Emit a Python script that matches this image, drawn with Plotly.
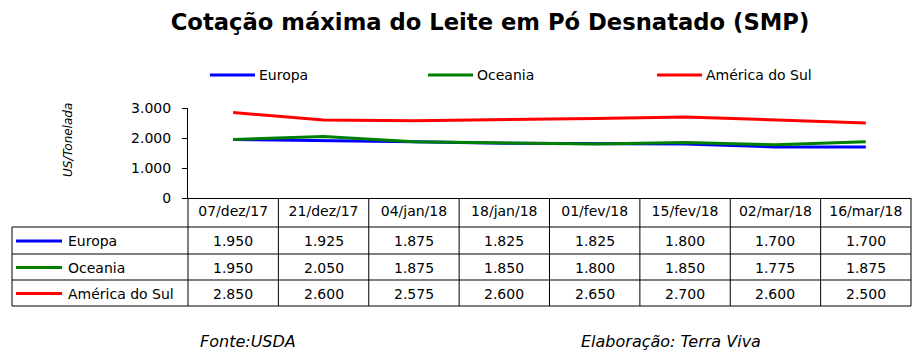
import plotly.graph_objects as go

# ---------------- data ----------------
categories = ["07/dez/17", "21/dez/17", "04/jan/18", "18/jan/18",
              "01/fev/18", "15/fev/18", "02/mar/18", "16/mar/18"]
europa = [1950, 1925, 1875, 1825, 1825, 1800, 1700, 1700]
oceania = [1950, 2050, 1875, 1850, 1800, 1850, 1775, 1875]
america_sul = [2850, 2600, 2575, 2600, 2650, 2700, 2600, 2500]
series_names = ["Europa", "Oceania", "América do Sul"]
y_tickvals = [0, 1000, 2000, 3000]
title_text = "Cotação máxima do Leite em Pó Desnatado (SMP)"
y_title = "US/Tonelada"
source_text = "Fonte:USDA"
credit_text = "Elaboração: Terra Viva"

series_values = [europa, oceania, america_sul]
series_colors = ["#0000FF", "#008000", "#FF0000"]

# ---------------- layout geometry (pixels) ----------------
W, H = 920, 356
L, R, T, B = 188, 9, 108, 158
PW, PH = W - L - R, H - T - B
FONT = "DejaVu Sans"


def px_x(px):
    return (px - L) / PW


def px_y(py):
    return (H - B - py) / PH


def fmt(v):
    return f"{v:,}".replace(",", ".")


fig = go.Figure()
for name, vals, col in zip(series_names, series_values, series_colors):
    fig.add_trace(go.Scatter(x=categories, y=vals, name=name, mode="lines",
                             line=dict(color=col, width=3), showlegend=False,
                             hoverinfo="skip"))

shapes = []
annotations = []
n = len(categories)

# table horizontal lines
row_lines = [227, 254, 280, 306]
for yy in row_lines:
    shapes.append(dict(type="line", xref="paper", yref="paper",
                       x0=px_x(12), x1=1, y0=px_y(yy), y1=px_y(yy),
                       line=dict(color="black", width=1)))
# table vertical lines
for k in range(n + 1):
    shapes.append(dict(type="line", xref="paper", yref="paper",
                       x0=k / n, x1=k / n, y0=px_y(198), y1=px_y(306),
                       line=dict(color="black", width=1)))
shapes.append(dict(type="line", xref="paper", yref="paper",
                   x0=px_x(12), x1=px_x(12), y0=px_y(227), y1=px_y(306),
                   line=dict(color="black", width=1)))

row_centers = [241, 267.5, 293.5]
for name, vals, col, yc in zip(series_names, series_values, series_colors, row_centers):
    shapes.append(dict(type="line", xref="paper", yref="paper",
                       x0=px_x(16), x1=px_x(62), y0=px_y(yc), y1=px_y(yc),
                       line=dict(color=col, width=3)))
    annotations.append(dict(text=name, xref="paper", yref="paper",
                            x=px_x(66), y=px_y(yc), xanchor="left", yanchor="middle",
                            showarrow=False, font=dict(family=FONT, size=14, color="black")))
    for c, v in zip(categories, vals):
        annotations.append(dict(text=fmt(v), xref="x", yref="paper",
                                x=c, y=px_y(yc), xanchor="center", yanchor="middle",
                                showarrow=False, font=dict(family=FONT, size=14, color="black")))

# top legend (manual)
legend_x = [210, 428, 657]
for name, col, lx in zip(series_names, series_colors, legend_x):
    shapes.append(dict(type="line", xref="paper", yref="paper",
                       x0=px_x(lx), x1=px_x(lx + 45), y0=px_y(75), y1=px_y(75),
                       line=dict(color=col, width=3)))
    annotations.append(dict(text=name, xref="paper", yref="paper",
                            x=px_x(lx + 47), y=px_y(75), xanchor="left", yanchor="middle",
                            showarrow=False, font=dict(family=FONT, size=14, color="black")))

# axis title
annotations.append(dict(text=y_title, xref="paper", yref="paper",
                        x=px_x(68), y=px_y(140), textangle=-90,
                        xanchor="center", yanchor="middle", showarrow=False,
                        font=dict(family=FONT, size=12, color="black", style="italic")))
# footer
annotations.append(dict(text=source_text, xref="paper", yref="paper",
                        x=px_x(248), y=px_y(341), xanchor="center", yanchor="middle",
                        showarrow=False,
                        font=dict(family=FONT, size=16, color="black", style="italic")))
annotations.append(dict(text=credit_text, xref="paper", yref="paper",
                        x=px_x(671), y=px_y(341), xanchor="center", yanchor="middle",
                        showarrow=False,
                        font=dict(family=FONT, size=16, color="black", style="italic")))

fig.update_layout(
    width=W, height=H,
    margin=dict(l=L, r=R, t=T, b=B, pad=0),
    paper_bgcolor="white", plot_bgcolor="white",
    separators=",.",
    title=dict(text="<b>" + title_text + "</b>", x=490 / W, xanchor="center",
               y=1 - 22 / H, yanchor="middle", xref="container", yref="container",
               font=dict(family=FONT, size=22.7, color="black")),
    xaxis=dict(type="category", range=[-0.5, n - 0.5], showline=True,
               linecolor="black", linewidth=1, ticks="", showgrid=False,
               zeroline=False, tickfont=dict(family=FONT, size=14, color="black")),
    yaxis=dict(range=[0, 3000], tickvals=y_tickvals, tickformat=",d",
               showline=True, linecolor="black", linewidth=1, ticks="outside",
               ticklen=5, tickcolor="black", showgrid=False, zeroline=False,
               ticklabelstandoff=8,
               tickfont=dict(family=FONT, size=14, color="black")),
    shapes=shapes, annotations=annotations, showlegend=False,
    hovermode=False,
)

fig.write_html("out.html", config={"displayModeBar": False},
               post_script="document.body.style.margin='0px';document.body.style.overflow='hidden';")
